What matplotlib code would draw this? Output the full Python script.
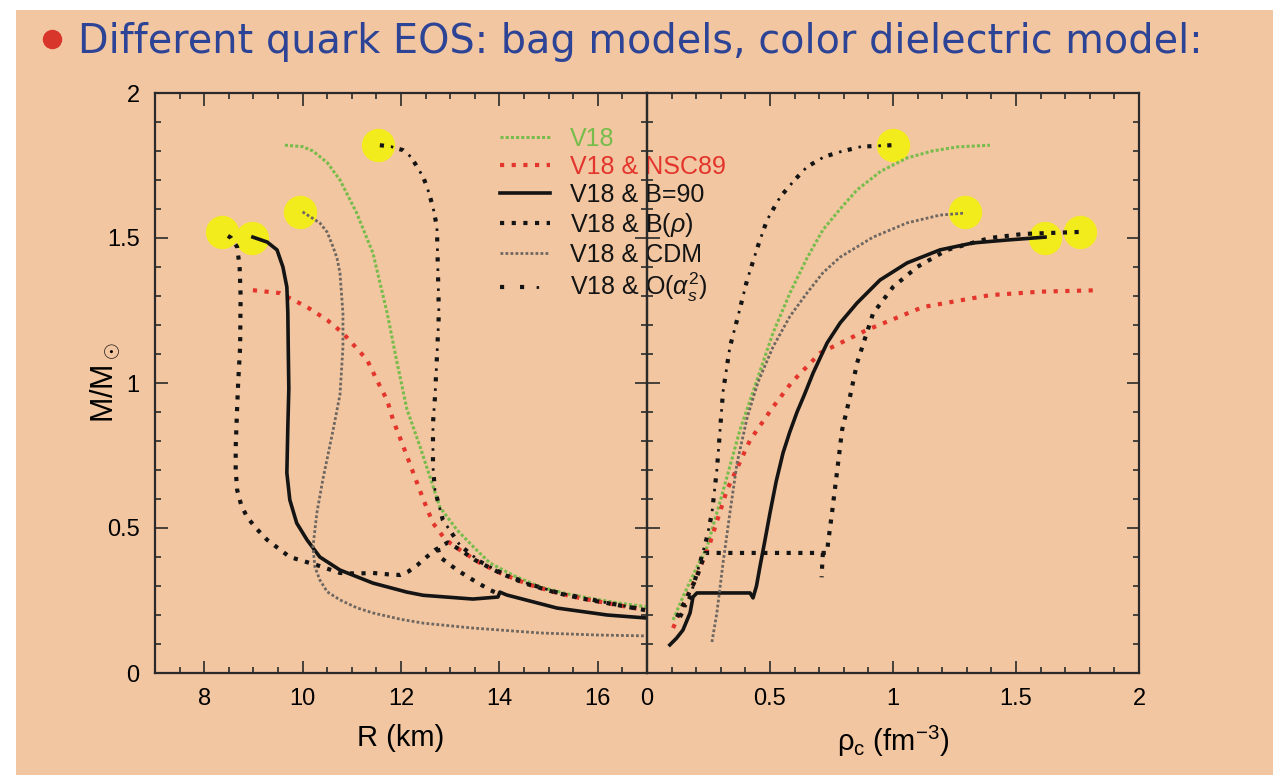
import numpy as np
import matplotlib
matplotlib.use("Agg")
import matplotlib.pyplot as plt
from matplotlib.patches import Rectangle
from matplotlib.lines import Line2D
from matplotlib.legend_handler import HandlerTuple

plt.rcParams['font.family'] = ['Liberation Sans', 'DejaVu Sans']
plt.rcParams['mathtext.fontset'] = 'custom'
plt.rcParams['mathtext.rm'] = 'Liberation Sans'
plt.rcParams['mathtext.it'] = 'Liberation Sans:italic'

# ---- mass-radius curves (left panel) ----
r_v18 = [9.64, 10.0, 10.21, 10.5, 10.76, 11.1, 11.43, 11.72, 11.92, 12.12, 12.39, 12.6,
         12.79, 13.14, 13.5, 13.81, 14.3, 14.83, 15.4, 15.84, 16.4, 17.0]
m_v18 = [1.82, 1.815, 1.80, 1.76, 1.70, 1.586, 1.448, 1.24, 1.07, 0.91, 0.779, 0.67,
         0.572, 0.493, 0.43, 0.379, 0.335, 0.297, 0.272, 0.258, 0.242, 0.228]

r_nsc = [8.99, 9.54, 10.09, 10.5, 10.82, 11.31, 11.51, 11.72, 11.84, 12.05, 12.25, 12.45,
         12.65, 12.9, 13.2, 13.6, 14.01, 14.6, 15.17, 15.7, 16.19, 16.6, 16.96]
m_nsc = [1.32, 1.31, 1.262, 1.217, 1.172, 1.08, 1.01, 0.94, 0.872, 0.78, 0.69, 0.60,
         0.517, 0.46, 0.424, 0.38, 0.345, 0.305, 0.276, 0.256, 0.241, 0.228, 0.217]

r_b90 = [8.99, 9.28, 9.48, 9.6, 9.68, 9.7, 9.71, 9.72, 9.7, 9.68, 9.74, 9.88, 10.09, 10.35,
         10.76, 11.43, 12.12, 12.45, 13.46, 13.97, 14.01, 14.15, 15.17, 16.19, 16.96]
m_b90 = [1.503, 1.486, 1.459, 1.40, 1.331, 1.241, 1.10, 0.98, 0.85, 0.69, 0.597, 0.517,
         0.459, 0.40, 0.355, 0.31, 0.279, 0.268, 0.255, 0.262, 0.279, 0.269, 0.224, 0.20, 0.19]

r_brho = [16.96, 16.6, 16.19, 15.7, 15.17, 14.5, 14.01, 13.5, 13.2, 12.95, 12.69,
          12.52, 12.33, 12.15, 11.98, 11.75, 11.43, 11.1, 10.76, 10.29, 9.74, 9.28, 9.05,
          8.87, 8.75, 8.67, 8.64, 8.64, 8.67, 8.69, 8.73, 8.74, 8.72, 8.67, 8.55, 8.36,
          np.nan, 12.75, 12.79, 13.14, 13.46, 13.81, 14.0]
m_brho = [0.217, 0.228, 0.241, 0.256, 0.276, 0.31, 0.345, 0.39, 0.425, 0.45, 0.424,
          0.40, 0.372, 0.35, 0.338, 0.34, 0.345, 0.343, 0.345, 0.372, 0.40, 0.459, 0.50,
          0.538, 0.58, 0.631, 0.70, 0.779, 0.917, 1.0, 1.124, 1.30, 1.40, 1.469, 1.50, 1.521,
          np.nan, 0.43, 0.40, 0.355, 0.321, 0.286, 0.272]

r_cdm = [10.0, 10.35, 10.5, 10.62, 10.7, 10.76, 10.82, 10.82, 10.76, 10.62, 10.41, 10.29,
         10.21, 10.25, 10.35, 10.5, 10.76, 11.1, 11.43, 12.0, 12.45, 13.46, 14.83, 16.0, 16.96]
m_cdm = [1.59, 1.552, 1.52, 1.469, 1.43, 1.379, 1.24, 1.124, 0.96, 0.838, 0.666, 0.552,
         0.434, 0.366, 0.321, 0.28, 0.252, 0.225, 0.207, 0.185, 0.172, 0.155, 0.138, 0.131,
         0.128]

r_pert = [11.57, 11.8, 12.04, 12.2, 12.33, 12.45, 12.53, 12.65, 12.73, 12.75, 12.77, 12.73,
          12.69, 12.65, 12.65, 12.69, 12.85, 13.2, 13.6, 14.01, 14.6, 15.17, 16.19, 16.96]
m_pert = [1.82, 1.815, 1.803, 1.78, 1.745, 1.71, 1.676, 1.607, 1.538, 1.39, 1.24, 1.09,
          0.95, 0.862, 0.71, 0.631, 0.528, 0.44, 0.385, 0.348, 0.307, 0.278, 0.242, 0.218]

# ---- mass vs central density (right panel) ----
rho_v18 = [0.106, 0.15, 0.2, 0.244, 0.3, 0.378, 0.447, 0.512, 0.581, 0.65, 0.715, 0.785,
           0.854, 0.95, 1.057, 1.16, 1.26, 1.394]
mc_v18 = [0.183, 0.27, 0.36, 0.434, 0.6, 0.838, 1.01, 1.172, 1.31, 1.43, 1.528, 1.6,
          1.666, 1.73, 1.776, 1.80, 1.814, 1.82]

rho_nsc = [0.106, 0.15, 0.2, 0.256, 0.325, 0.419, 0.512, 0.589, 0.703, 0.894, 1.122,
           1.394, 1.6, 1.84]
mc_nsc = [0.155, 0.24, 0.33, 0.448, 0.631, 0.803, 0.917, 1.003, 1.103, 1.183, 1.262,
          1.303, 1.315, 1.32]

rho_b90 = [0.093, 0.12, 0.146, 0.175, 0.187, 0.203, 0.30, 0.419, 0.431, 0.445, 0.459, 0.48,
           0.5, 0.525, 0.553, 0.58, 0.61, 0.64, 0.675, 0.732, 0.785, 0.854, 0.947, 1.057,
           1.191, 1.325, 1.463, 1.618]
mc_b90 = [0.097, 0.12, 0.148, 0.207, 0.262, 0.276, 0.276, 0.276, 0.259, 0.30, 0.366, 0.46,
          0.552, 0.66, 0.759, 0.83, 0.9, 0.96, 1.034, 1.138, 1.207, 1.276, 1.355, 1.414,
          1.459, 1.483, 1.493, 1.503]

rho_brho = [0.122, 0.163, 0.203, 0.236, 0.40, 0.55, 0.732, 0.736, 0.752, 0.772, 0.793,
            0.825, 0.854, 0.919, 1.0, 1.098, 1.22, 1.394, 1.53, 1.76,
            np.nan, 0.715, 0.712, 0.71]
mc_brho = [0.193, 0.262, 0.331, 0.414, 0.414, 0.414, 0.414, 0.448, 0.552, 0.69, 0.838,
           0.952, 1.069, 1.24, 1.331, 1.40, 1.459, 1.50, 1.514, 1.521,
           np.nan, 0.414, 0.37, 0.33]

rho_cdm = [0.264, 0.284, 0.309, 0.337, 0.366, 0.407, 0.45, 0.512, 0.581, 0.65, 0.715,
           0.785, 0.919, 1.057, 1.191, 1.293]
mc_cdm = [0.107, 0.207, 0.379, 0.552, 0.724, 0.88, 1.0, 1.124, 1.23, 1.31, 1.38, 1.434,
          1.503, 1.552, 1.579, 1.586]

rho_pert = [0.134, 0.175, 0.215, 0.244, 0.264, 0.284, 0.297, 0.309, 0.337, 0.366, 0.407,
            0.45, 0.488, 0.541, 0.6, 0.65, 0.72, 0.785, 0.87, 0.996]
mc_pert = [0.193, 0.262, 0.379, 0.469, 0.552, 0.70, 0.838, 0.97, 1.124, 1.217, 1.355,
           1.47, 1.562, 1.641, 1.70, 1.745, 1.78, 1.797, 1.815, 1.82]

# maximum-mass configurations
r_max = [11.53, 9.95, 8.97, 8.36]
rho_max = [1.0, 1.293, 1.618, 1.76]
m_max = [1.82, 1.59, 1.50, 1.521]

labels = ["V18", "V18 & NSC89", "V18 & B=90", r"V18 & B($\rho$)", "V18 & CDM",
          r"V18 & O($\alpha_s^2$)"]
r_ticks = [8, 10, 12, 14, 16]
rho_ticks = [0, 0.5, 1, 1.5, 2]
rho_ticklabels = ["0", "0.5", "1", "1.5", "2"]
m_ticks = [0, 0.5, 1, 1.5, 2]
m_ticklabels = ["0", "0.5", "1", "1.5", "2"]

peach = "#F2C6A1"
green = "#78BC4C"
red = "#E3352C"
grey = "#6E6660"
black = "#141414"

W, H = 1277, 775
fig = plt.figure(figsize=(W / 100, H / 100), dpi=100, facecolor="white")
fig.patches.append(Rectangle((16 / W, 0), (1273 - 16) / W, 1 - 10 / H,
                             transform=fig.transFigure, facecolor=peach,
                             edgecolor="none", zorder=-10))

fig.add_artist(Line2D([52 / W], [1 - 39 / H], marker="o", ms=14, color="#D8362B",
                      mec="none", transform=fig.transFigure))
fig.text(78 / W, 1 - 53 / H, "Different quark EOS: bag models, color dielectric model:",
         fontsize=28.6, color="#2D4496", family="DejaVu Sans", va="baseline")

ax1 = fig.add_axes([155 / W, 102 / H, 492 / W, 580 / H])
ax2 = fig.add_axes([647 / W, 102 / H, 492 / W, 580 / H])


def styles():
    return [
        dict(color=green, lw=2.2, ls=(0, (1, 0.7))),
        dict(color=red, lw=3.0, ls=(0, (1, 1.8))),
        dict(color=black, lw=2.6, ls="-"),
        dict(color=black, lw=3.0, ls=(0, (1, 1.8))),
        dict(color=grey, lw=2.0, ls=(0, (1, 0.8))),
    ]


handles = []
for ax, xs, mx, data in [
    (ax1, r_max, m_max, [(r_v18, m_v18), (r_nsc, m_nsc), (r_b90, m_b90),
                         (r_brho, m_brho), (r_cdm, m_cdm), (r_pert, m_pert)]),
    (ax2, rho_max, m_max, [(rho_v18, mc_v18), (rho_nsc, mc_nsc), (rho_b90, mc_b90),
                           (rho_brho, mc_brho), (rho_cdm, mc_cdm), (rho_pert, mc_pert)]),
]:
    ax.set_facecolor("none")
    ax.plot(xs, mx, ls="none", marker="o", ms=24, color="#F3EC1C", mec="none", zorder=1)
    lines = []
    for (x, y), st in zip(data[:5], styles()):
        ln, = ax.plot(x, y, dash_capstyle="butt", zorder=3, **st)
        lines.append(ln)
    # alternating large and small dots
    big, = ax.plot(data[5][0], data[5][1], color=black, lw=3.0, ls=(0, (1, 3.8)),
                   dash_capstyle="butt", zorder=3)
    small, = ax.plot(data[5][0], data[5][1], color=black, lw=2.0, ls=(3.2, (0.9, 6.3)),
                     dash_capstyle="butt", zorder=3)
    lines.append((big, small))
    if ax is ax1:
        handles = lines

    ax.set_ylim(0, 2)
    ax.set_yticks(m_ticks)
    ax.set_yticks(np.arange(0, 2.01, 0.1), minor=True)
    for s in ax.spines.values():
        s.set_linewidth(1.6)
        s.set_color("#2a2a2a")
    ax.tick_params(which="both", direction="in", top=True, right=True, width=1.2,
                   color="#2a2a2a", labelsize=17, pad=11)
    ax.tick_params(which="major", length=9)
    ax.tick_params(which="minor", length=4.5)

ax1.set_xlim(7, 17)
ax1.set_xticks(r_ticks)
ax1.set_xticks(np.arange(7, 17.01, 0.5), minor=True)
ax1.set_yticklabels(m_ticklabels)
ax1.set_xlabel("R (km)", fontsize=21, labelpad=10)
ax1.set_ylabel(r"M/M$_\odot$", fontsize=22)
ax1.yaxis.set_label_coords(-0.067, 0.5)

ax2.set_xlim(0, 2)
ax2.set_xticks(rho_ticks)
ax2.set_xticklabels(rho_ticklabels)
ax2.set_xticks(np.arange(0, 2.01, 0.1), minor=True)
ax2.tick_params(labelleft=False)
ax2.set_xlabel(r"$\mathrm{\rho_c}$ (fm$^{-3}$)", fontsize=21, labelpad=10)

leg = ax1.legend(handles, labels, loc="upper left", bbox_to_anchor=(500 / W, 1 - 127 / H),
                 bbox_transform=fig.transFigure, frameon=False, fontsize=18,
                 handlelength=2.0, handletextpad=0.8, labelspacing=0.16,
                 borderpad=0, borderaxespad=0,
                 handler_map={tuple: HandlerTuple(ndivide=None, pad=0)})
for txt, col in zip(leg.get_texts(), [green, red, black, black, black, black]):
    txt.set_color(col)

fig.savefig("out.png", dpi=100, facecolor=fig.get_facecolor())
